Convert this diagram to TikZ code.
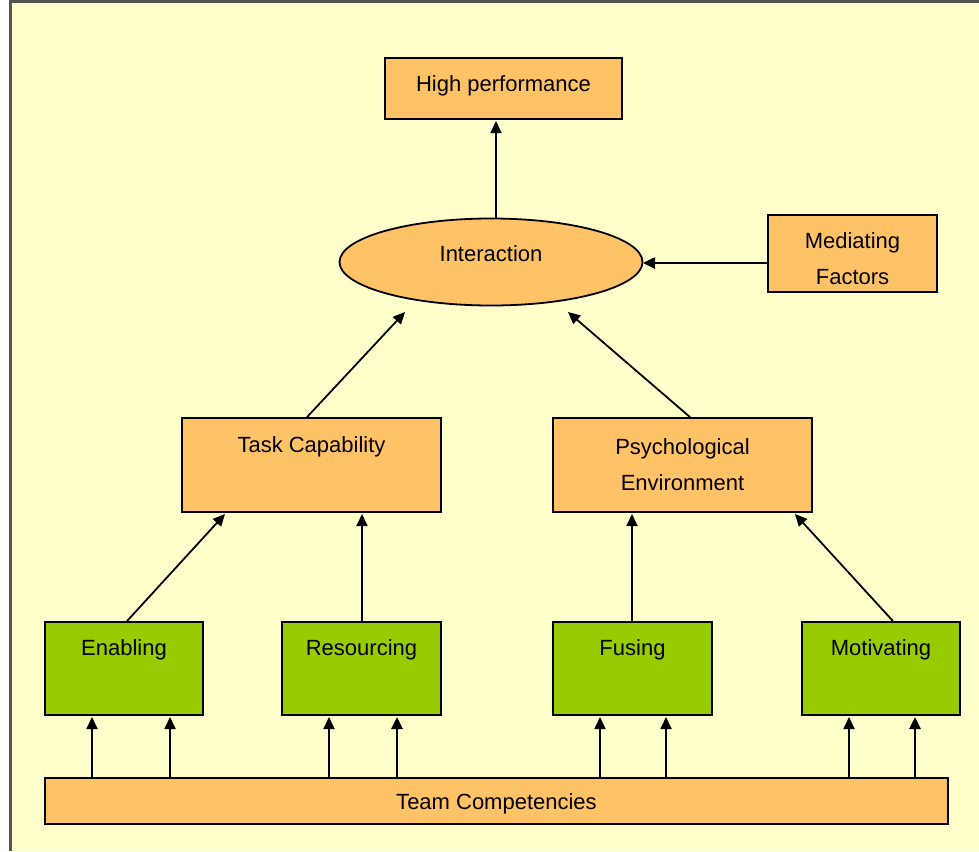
\documentclass[tikz,border=0pt]{standalone}
\usepackage{fontspec}
\setmainfont{Liberation Sans}
\usetikzlibrary{shapes.geometric,arrows.meta}
\definecolor{bgc}{HTML}{FFFFCC}
\definecolor{orangec}{HTML}{FFC266}
\definecolor{greenc}{HTML}{99CC00}
\definecolor{framec}{HTML}{555555}
\begin{document}
\begin{tikzpicture}[x=1pt,y=-1pt,
  box/.style={draw=black,line width=1.8pt,fill=orangec,inner sep=0pt},
  gbox/.style={draw=black,line width=1.8pt,fill=greenc,inner sep=0pt},
  arr/.style={line width=1.8pt,-{Triangle[length=12pt,width=11pt]}},
  lbl/.style={font=\fontsize{22}{36}\selectfont,inner sep=0pt,align=center}]
\useasboundingbox (0,0) rectangle (979,851);
\fill[bgc] (10,2) rectangle (979,851);
\draw[framec,line width=3pt] (10,851) -- (10,2) -- (979,2);
% nodes
\node[box,minimum width=237pt,minimum height=61pt] (hp) at (503.5,88.5) {};
\node[lbl] at (503.5,86) {High performance};
\node[ellipse,draw=black,line width=1.8pt,fill=orangec,minimum width=303pt,minimum height=87pt,inner sep=0pt] (int) at (491,262) {};
\node[lbl] at (491,254) {Interaction};
\node[box,minimum width=169pt,minimum height=77pt] (med) at (852.5,253.5) {};
\node[lbl] at (852.5,259) {Mediating\\Factors};
\node[box,minimum width=259pt,minimum height=94pt] (task) at (311.5,465) {};
\node[lbl] at (311.5,447) {Task Capability};
\node[box,minimum width=259pt,minimum height=94pt] (psy) at (682.5,465) {};
\node[lbl] at (682.5,465) {Psychological\\Environment};
\node[gbox,minimum width=158pt,minimum height=93pt] (en) at (124,668.5) {};
\node[lbl] at (124,650) {Enabling};
\node[gbox,minimum width=159pt,minimum height=93pt] (res) at (361.5,668.5) {};
\node[lbl] at (361.5,650) {Resourcing};
\node[gbox,minimum width=159pt,minimum height=93pt] (fus) at (632.5,668.5) {};
\node[lbl] at (632.5,650) {Fusing};
\node[gbox,minimum width=158pt,minimum height=93pt] (mot) at (881,668.5) {};
\node[lbl] at (881,650) {Motivating};
\node[box,minimum width=903pt,minimum height=46pt] (team) at (496.5,801) {};
\node[lbl] at (496.5,804) {Team Competencies};
% connectors
\draw[arr] (int.north -| 496,0) -- (496,121);
\draw[arr,line width=2.5pt] (med.west |- 0,263) -- (643,263);
\draw[arr] (task.north -| 307,0) -- (405,312);
\draw[arr] (psy.north -| 690,0) -- (568,312);
\draw[arr] (en.north -| 127,0) -- (225,514);
\draw[arr] (res.north -| 362,0) -- (362,514);
\draw[arr] (fus.north -| 632,0) -- (632,514);
\draw[arr] (mot.north -| 893,0) -- (795,514);
\foreach \x in {92,170,329,600,666,849}
  \draw[arr] (team.north -| \x,0) -- (\x,717);
\foreach \x in {397,915}
  \draw[arr,line width=2.8pt] (team.north -| \x,0) -- (\x,717);
\end{tikzpicture}
\end{document}
